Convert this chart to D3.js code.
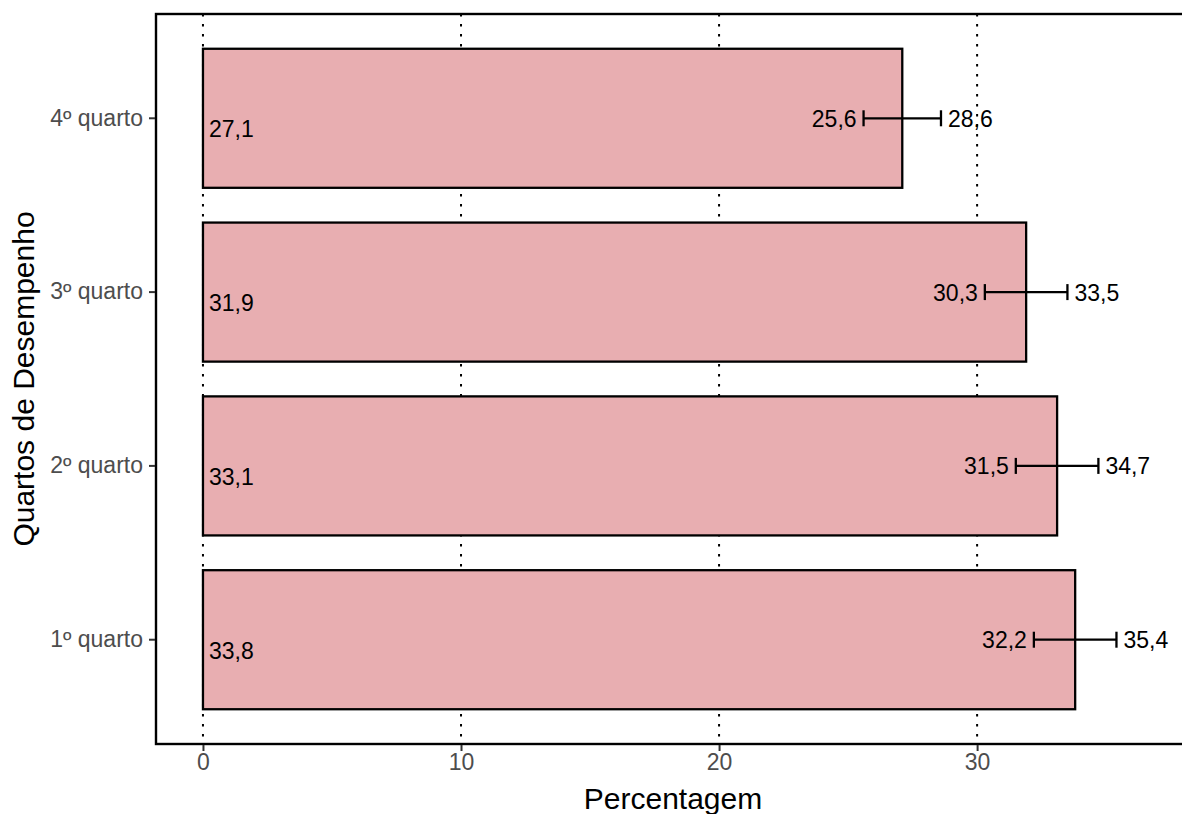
<!DOCTYPE html>
<html><head><meta charset="utf-8">
<script src="https://cdn.jsdelivr.net/npm/d3@7"></script>
<style>body{margin:0;background:#fff}svg{display:block}</style>
</head><body>
<svg id="c" width="1182" height="814"></svg>
<script>
const categories = ["1º quarto","2º quarto","3º quarto","4º quarto"];
const values = [33.8, 33.1, 31.9, 27.1];
const lower = [32.2, 31.5, 30.3, 25.6];
const upper = [35.4, 34.7, 33.5, 28.6];
const xTicks = [0, 10, 20, 30];
const fmt = v => d3.format(".1f")(v).replace(".", ",");

const svg = d3.select("#c");
const m = {left:156, top:14, right:1190, bottom:744};
const font = "'Liberation Sans', Arial, sans-serif";

const x = d3.scaleLinear().domain([-1.82, 38.25]).range([m.left, m.right]);
const y = d3.scaleBand().domain(categories.slice().reverse()).range([m.top, m.bottom]).paddingInner(0.2).paddingOuter(0.2);

// grid
svg.append("g").selectAll("line").data(xTicks).join("line")
  .attr("x1", d => x(d)).attr("x2", d => x(d))
  .attr("y1", m.top).attr("y2", m.bottom)
  .attr("stroke", "#000").attr("stroke-width", 2).attr("stroke-dasharray", "2.5,7.5");

// bars
const data = categories.map((c,i) => ({c, v:values[i], lo:lower[i], hi:upper[i]}));
svg.append("g").selectAll("rect").data(data).join("rect")
  .attr("x", x(0)).attr("y", d => y(d.c))
  .attr("width", d => x(d.v) - x(0)).attr("height", y.bandwidth())
  .attr("fill", "#E8AEB1").attr("stroke", "#000").attr("stroke-width", 2.3);

// value labels
svg.append("g").selectAll("text").data(data).join("text")
  .attr("x", x(0) + 6).attr("y", d => y(d.c) + y.bandwidth()/2 + 19)
  .attr("font-family", font).attr("font-size", 23).attr("fill", "#000")
  .text(d => fmt(d.v));

// error bars
const eb = svg.append("g");
const cy = d => y(d.c) + y.bandwidth()/2;
eb.selectAll("line.h").data(data).join("line").attr("class","h")
  .attr("x1", d => x(d.lo)).attr("x2", d => x(d.hi)).attr("y1", cy).attr("y2", cy)
  .attr("stroke", "#000").attr("stroke-width", 2.3);
["lo","hi"].forEach(k => {
  eb.selectAll("line."+k).data(data).join("line").attr("class", k)
    .attr("x1", d => x(d[k])).attr("x2", d => x(d[k]))
    .attr("y1", d => cy(d) - 8).attr("y2", d => cy(d) + 8)
    .attr("stroke", "#000").attr("stroke-width", 2.3);
});
eb.selectAll("text.lo").data(data).join("text").attr("class","lo")
  .attr("x", d => x(d.lo) - 7).attr("y", d => cy(d) + 8.5)
  .attr("text-anchor", "end").attr("font-family", font).attr("font-size", 23)
  .text(d => fmt(d.lo));
eb.selectAll("text.hi").data(data).join("text").attr("class","hi")
  .attr("x", d => x(d.hi) + 7).attr("y", d => cy(d) + 8.5)
  .attr("font-family", font).attr("font-size", 23)
  .text(d => fmt(d.hi));

// panel border
svg.append("rect").attr("x", m.left).attr("y", m.top)
  .attr("width", m.right - m.left).attr("height", m.bottom - m.top)
  .attr("fill", "none").attr("stroke", "#000").attr("stroke-width", 2.4);

// axes
const xAxis = svg.append("g").attr("transform", `translate(0,${m.bottom+1})`)
  .call(d3.axisBottom(x).tickValues(xTicks).tickSize(6).tickPadding(3).tickFormat(d3.format("d")));
const yAxis = svg.append("g").attr("transform", `translate(${m.left-1},0)`)
  .call(d3.axisLeft(y).tickSize(6).tickPadding(6));
[xAxis, yAxis].forEach(a => {
  a.select(".domain").remove();
  a.selectAll(".tick line").attr("stroke", "#333").attr("stroke-width", 2);
  a.selectAll(".tick text").attr("fill", "#4d4d4d").attr("font-family", font).attr("font-size", 23);
});

// titles
svg.append("text").attr("x", (m.left + m.right)/2).attr("y", 809)
  .attr("text-anchor", "middle").attr("font-family", font).attr("font-size", 30)
  .text("Percentagem");
svg.append("text").attr("transform", `translate(34,${(m.top+m.bottom)/2}) rotate(-90)`)
  .attr("text-anchor", "middle").attr("font-family", font).attr("font-size", 30)
  .text("Quartos de Desempenho");
</script>
</body></html>
